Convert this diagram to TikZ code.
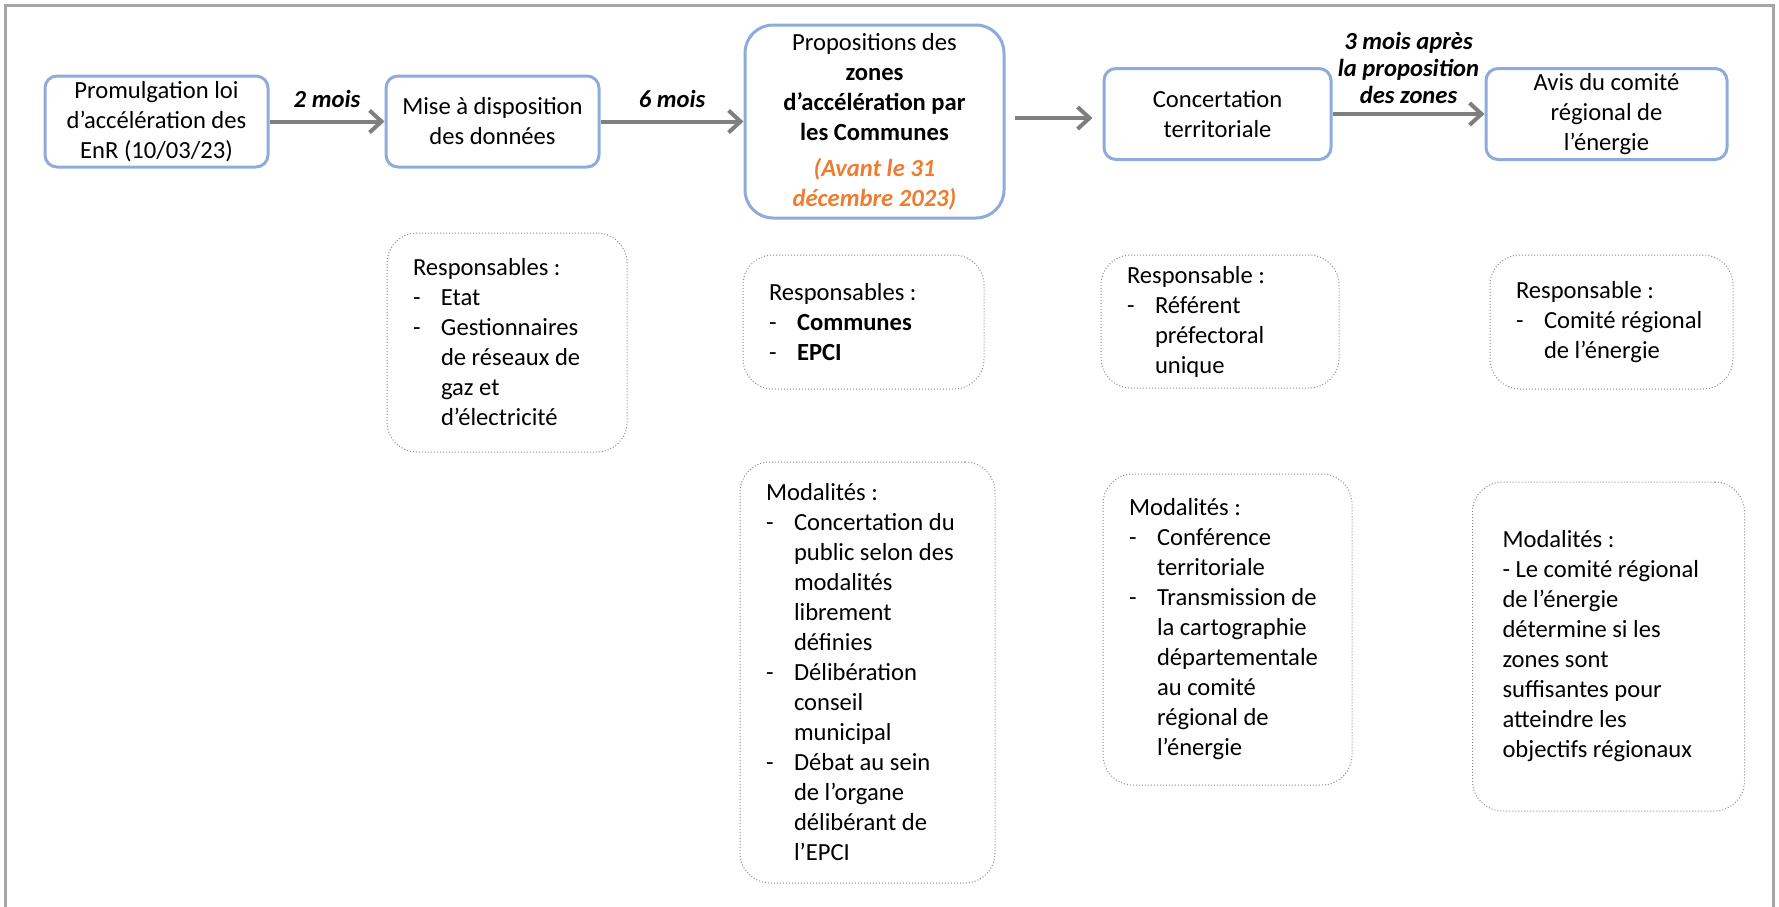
\documentclass[tikz,border=0pt]{standalone}
\usepackage{fontspec}
\setmainfont{Carlito}
\usepackage{tikz}
\usetikzlibrary{arrows.meta}
\definecolor{bordbleu}{HTML}{8FAADC}
\definecolor{gristrait}{HTML}{7F7F7F}
\definecolor{griscadre}{HTML}{A6A6A6}
\definecolor{grispoint}{HTML}{8C8C8C}
\definecolor{orangedate}{HTML}{ED7D31}
\newcommand{\puce}[1]{\makebox[14pt][l]{-}#1}
\newcommand{\suite}[1]{\hspace*{14pt}#1}
\tikzset{
    etape-box/.style = {draw=bordbleu, line width=1.5pt, fill=white, rectangle, rounded corners=6pt, align=flush center, inner sep=2pt},
    info-box/.style = {draw=grispoint, densely dotted, line width=0.5pt, rectangle, rounded corners=15pt, align=flush left, inner xsep=13pt, inner ysep=0pt},
    delai-label/.style = {font=\fontsize{12.3}{13.5}\selectfont\bfseries\itshape, align=flush center, inner sep=2pt},
    fleche/.style = {draw=gristrait, line width=2pt, -{Straight Barb[length=6pt,width=11pt]}},
}

\begin{document}
\begin{tikzpicture}[x=0.5pt, y=-0.5pt, font=\fontsize{12.3}{15}\selectfont]
\useasboundingbox (0,0) rectangle (1779,906);
\draw[griscadre, line width=1.5pt] (5,910) -- (5,5) -- (1773,5) -- (1773,910);

\node[etape-box, minimum width=111.5pt, minimum height=45.5pt] (loi) at (156.5,121.5) {Promulgation loi\\d’accélération des\\EnR (10/03/23)};
\node[etape-box, minimum width=106.5pt, minimum height=45.5pt] (mise) at (492.5,121.5) {Mise à disposition\\des données};
\node[etape-box, rounded corners=14pt, minimum width=129.5pt, minimum height=96.5pt] (propo) at (874.5,121.5) {Propositions des\\\textbf{zones}\\\textbf{d’accélération par}\\\textbf{les Communes}\\[3pt]{\color{orangedate}\bfseries\itshape (Avant le 31}\\{\color{orangedate}\bfseries\itshape décembre 2023)}};
\node[etape-box, minimum width=113.5pt, minimum height=45.5pt] (concert) at (1217.5,114) {Concertation\\territoriale};
\node[etape-box, minimum width=120.5pt, minimum height=45.5pt] (avis) at (1606.5,114) {Avis du comité\\régional de\\l’énergie};

\draw[fleche] (loi) -- node[delai-label, above=4pt] {2 mois} (mise);
\draw[fleche] (mise) -- node[delai-label, above=4pt] {6 mois} (propo);
\draw[fleche, shorten <=4.5pt, shorten >=5pt] ([yshift=-2pt]propo.east |- concert.west) -- ([yshift=-2pt]concert.west);
\draw[fleche] (concert) -- node[delai-label, above=2pt] {3 mois après\\la proposition\\des zones} (avis);

\node[info-box, text width=94pt, minimum height=109.5pt] (resp-mise) at (507,342.5) {Responsables :\\\puce{Etat}\\\puce{Gestionnaires}\\\suite{de réseaux de}\\\suite{gaz et}\\\suite{d’électricité}};
\node[info-box, text width=94.5pt, minimum height=67pt] (resp-propo) at (863.5,322) {Responsables :\\\puce{\textbf{Communes}}\\\puce{\textbf{EPCI}}};
\node[info-box, text width=93pt, minimum height=66.5pt] (resp-concert) at (1220,321.5) {Responsable :\\\puce{Référent}\\\suite{préfectoral}\\\suite{unique}};
\node[info-box, text width=95.5pt, minimum height=67pt] (resp-avis) at (1611.5,322) {Responsable :\\\puce{Comité régional}\\\suite{de l’énergie}};

\node[info-box, text width=101.5pt, minimum height=210.5pt] (moda-propo) at (867.5,672.5) {Modalités :\\\puce{Concertation du}\\\suite{public selon des}\\\suite{modalités}\\\suite{librement}\\\suite{définies}\\\puce{Délibération}\\\suite{conseil}\\\suite{municipal}\\\puce{Débat au sein}\\\suite{de l’organe}\\\suite{délibérant de}\\\suite{l’EPCI}};
\node[info-box, text width=98.5pt, minimum height=155.5pt] (moda-concert) at (1227.5,629.5) {Modalités :\\\puce{Conférence}\\\suite{territoriale}\\\puce{Transmission de}\\\suite{la cartographie}\\\suite{départementale}\\\suite{au comité}\\\suite{régional de}\\\suite{l’énergie}};
\node[info-box, text width=106pt, inner xsep=15pt, minimum height=164.5pt] (moda-avis) at (1608.5,646.5) {Modalités :\\- Le comité régional\\de l’énergie\\détermine si les\\zones sont\\suffisantes pour\\atteindre les\\objectifs régionaux};
\end{tikzpicture}
\end{document}
